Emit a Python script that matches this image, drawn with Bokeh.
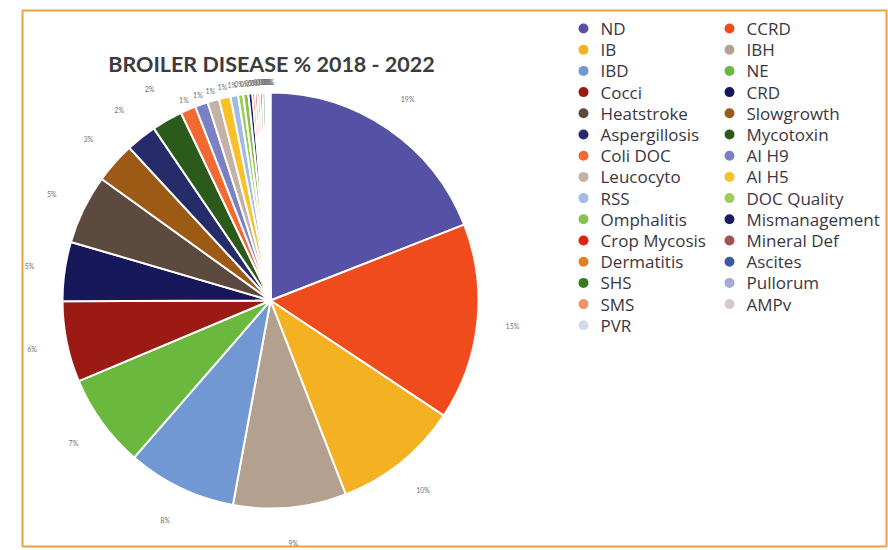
import math
from bokeh.plotting import figure
from bokeh.models import ColumnDataSource, Range1d
from bokeh.core.properties import value
from bokeh.embed import file_html
from bokeh.resources import INLINE

categories = ["ND", "CCRD", "IB", "IBH", "IBD", "NE", "Cocci", "CRD", "Heatstroke",
              "Slowgrowth", "Aspergillosis", "Mycotoxin", "Coli DOC", "AI H9", "Leucocyto",
              "AI H5", "RSS", "DOC Quality", "Omphalitis", "Mismanagement", "Crop Mycosis",
              "Mineral Def", "Dermatitis", "Ascites", "SHS", "Pullorum", "SMS", "AMPv", "PVR"]
values = [19.1, 15.3, 9.8, 8.8, 8.5, 7.3, 6.3, 4.6, 5.4,
          3.2, 2.4, 2.4, 1.2, 1.0, 0.9,
          0.9, 0.6, 0.4, 0.4, 0.3, 0.2,
          0.2, 0.2, 0.2, 0.2, 0.1, 0.1, 0.1, 0.1]
colors = ["#5552a6", "#ef4b1c", "#f4b223", "#b4a08f", "#7198d2", "#6ab83e", "#9b1b14",
          "#17185a", "#5c4a3e", "#9c5a14", "#262b6a", "#2b5a1a", "#f26a32", "#7a80c4",
          "#c4b2a8", "#f9c02a", "#a0bce6", "#a0cc5a", "#88c050", "#1a1a60", "#e02010",
          "#a05050", "#e08020", "#3c5aa0", "#3c7a20", "#a8a8d8", "#f4906a", "#d8c8c8",
          "#d0dcec"]
title_text = "BROILER DISEASE % 2018 - 2022"

W, H = 888, 550
p = figure(width=W, height=H, output_backend="svg", toolbar_location=None,
           x_range=Range1d(22, 886), y_range=Range1d(4, 540),
           min_border_left=22, min_border_top=10, min_border_right=2, min_border_bottom=4)
p.axis.visible = False
p.grid.visible = False
p.outline_line_color = "#f0a040"
p.outline_line_width = 2
p.background_fill_color = "white"
p.border_fill_color = "white"

total = sum(values)
cx, cy, r = 270, 250, 208
starts, ends, lx, ly, labels = [], [], [], [], []
cum = 0.0
for v in values:
    a0 = math.pi / 2 - 2 * math.pi * cum / total
    cum += v
    a1 = math.pi / 2 - 2 * math.pi * cum / total
    starts.append(a1)
    ends.append(a0)
    mid = (a0 + a1) / 2
    pct = round(100 * v / total)
    k = 1.17 if pct >= 2 else 1.05
    lx.append(cx + k * r * math.cos(mid))
    ly.append(cy + k * r * math.sin(mid))
    labels.append(f"{pct}%")

src = ColumnDataSource(dict(cat=categories, val=values, color=colors,
                            start=starts, end=ends, lx=lx, ly=ly, lab=labels))
p.wedge(x=cx, y=cy, radius=r, start_angle="start", end_angle="end", direction="anticlock",
        fill_color="color", line_color="white", line_width=2, source=src)
p.text(x="lx", y="ly", text="lab", source=src, text_font=value("Lato"),
       text_font_size="7px", text_color="#707070", text_align="center", text_baseline="middle")

p.text(x=[271], y=[487], text=[title_text], text_font=value("Lato"), text_font_style="bold",
       text_font_size="21.5px", text_color="#3c3c3c", text_align="center", text_baseline="middle")

# legend, row-wise two columns
n = len(categories)
col_x = [583, 729]
leg_x, leg_y, leg_tx = [], [], []
for i in range(n):
    row, col = divmod(i, 2)
    leg_x.append(col_x[col])
    leg_tx.append(col_x[col] + 17)
    leg_y.append(550 - (28 + 21.2 * row))
lsrc = ColumnDataSource(dict(x=leg_x, tx=leg_tx, y=leg_y, cat=categories, color=colors))
p.scatter(x="x", y="y", size=10, fill_color="color", line_color=None, source=lsrc)
p.text(x="tx", y="y", text="cat", source=lsrc, text_font=value("Open Sans"),
       text_font_size="17px", text_color="#3d3540", text_baseline="middle")

open("out.html", "w").write(file_html(p, INLINE))
